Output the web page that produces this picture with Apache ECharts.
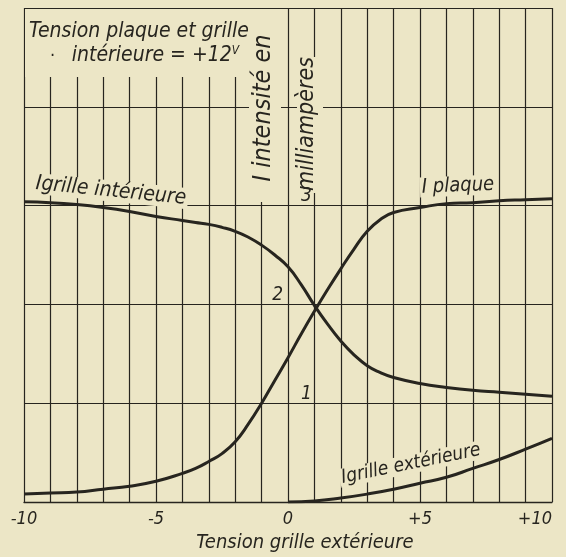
<!DOCTYPE html>
<html>
<head>
<meta charset="utf-8">
<script src="https://cdn.jsdelivr.net/npm/echarts@6/dist/echarts.min.js"></script>
<style>
  html, body { margin: 0; padding: 0; background: #ece6c6; }
  #chart { width: 566px; height: 557px; }
</style>
</head>
<body>
<div id="chart"></div>
<script>
// tension grille extérieure (V)
const tension = [-10, -9, -8, -7, -6, -5, -4, -3.5, -3, -2.5, -2, -1.5, -1, -0.5, 0, 0.5, 1, 1.5, 2, 2.5, 3, 3.5, 4, 5, 6, 7, 8, 9, 10]
// courants en mA
const iPlaque = [0.08, 0.09, 0.10, 0.13, 0.16, 0.21, 0.29, 0.34, 0.41, 0.49, 0.61, 0.79, 1.00, 1.23, 1.46, 1.70, 1.93, 2.15, 2.36, 2.56, 2.74, 2.86, 2.93, 2.98, 3.02, 3.03, 3.05, 3.06, 3.07]
const iGrilleInt = [3.04, 3.03, 3.01, 2.98, 2.94, 2.89, 2.85, 2.83, 2.81, 2.78, 2.74, 2.68, 2.60, 2.50, 2.38, 2.20, 1.99, 1.80, 1.63, 1.49, 1.38, 1.31, 1.26, 1.20, 1.16, 1.13, 1.11, 1.09, 1.07]
const tensionExt = [0, 1, 2, 3, 4, 5, 6, 7, 8, 9, 10]
const iGrilleExt = [0, 0.01, 0.04, 0.08, 0.13, 0.19, 0.25, 0.34, 0.43, 0.535, 0.645]
// graduations
const xTickValues = [-10, -5, 0, 5, 10]
const xTickLabels = ['-10', '-5', '0', '+5', '+10']
const yRightLabels = [1, 3]
const yLeftLabels = [2]

const paper = '#ece6c6'
const ink = '#27251f'
const font = '"Liberation Sans Narrow", "DejaVu Sans Condensed", "Liberation Sans", sans-serif'

const pairs = (xs, ys) => xs.map((x, i) => [x, ys[i]])

function curve(name, data) {
  return {
    name: name,
    type: 'line',
    data: data,
    smooth: 0.5,
    symbol: 'none',
    z: 8,
    lineStyle: { color: ink, width: 3 },
    itemStyle: { color: ink }
  }
}

function label(text, x, y, rotation, size) {
  return {
    type: 'text', z: 6, x: x, y: y, rotation: rotation,
    style: {
      text: text, fill: ink, fontSize: size, fontStyle: 'italic', fontFamily: font,
      align: 'center', verticalAlign: 'middle',
      backgroundColor: paper, padding: [0, 2]
    }
  }
}

const chart = echarts.init(document.getElementById('chart'))
chart.setOption({
  backgroundColor: paper,
  animation: false,
  grid: { left: 24, right: 14, top: 8, bottom: 55, outerBoundsMode: 'none' },
  xAxis: {
    type: 'value', min: -10, max: 10, interval: 1,
    axisLine: { onZero: false, lineStyle: { color: ink, width: 1.4 } },
    axisTick: { show: false },
    splitLine: { lineStyle: { color: ink, width: 1.2 } },
    axisLabel: {
      color: ink, fontSize: 18, fontStyle: 'italic', fontFamily: font, margin: 8,
      alignMaxLabel: 'right',
      formatter: v => {
        const i = xTickValues.indexOf(v)
        return i < 0 ? '' : xTickLabels[i]
      }
    },
    name: 'Tension grille extérieure',
    nameLocation: 'middle',
    nameGap: 31,
    nameTextStyle: { color: ink, fontSize: 20, fontStyle: 'italic', fontFamily: font, padding: [0, 0, 0, 34] }
  },
  yAxis: [
    {
      type: 'value', position: 'left', min: 0, max: 5, interval: 1,
      axisLine: { show: false }, axisTick: { show: false }, axisLabel: { show: false },
      splitLine: { lineStyle: { color: ink, width: 1.2 } }
    },
    {
      // chiffres 1 et 3, à droite de l'axe
      type: 'value', position: 'left', min: 0, max: 5, interval: 1, offset: -264, z: 10,
      axisLine: { show: false }, axisTick: { show: false }, splitLine: { show: false },
      axisLabel: {
        inside: true, margin: 13, verticalAlign: 'bottom',
        color: ink, fontSize: 19, fontStyle: 'italic', fontFamily: font,
        formatter: v => yRightLabels.indexOf(v) < 0 ? '' : String(v)
      }
    },
    {
      // chiffre 2, à gauche de l'axe
      type: 'value', position: 'left', min: 0, max: 5, interval: 1, offset: -264, z: 10,
      axisLine: { show: false }, axisTick: { show: false }, splitLine: { show: false },
      axisLabel: {
        inside: false, margin: 5, verticalAlign: 'bottom',
        color: ink, fontSize: 19, fontStyle: 'italic', fontFamily: font,
        formatter: v => yLeftLabels.indexOf(v) < 0 ? '' : String(v)
      }
    }
  ],
  series: [
    curve('I plaque', pairs(tension, iPlaque)),
    curve('I grille intérieure', pairs(tension, iGrilleInt)),
    curve('I grille extérieure', pairs(tensionExt, iGrilleExt))
  ],
  graphic: [
    // zones blanches sous le titre et le nom de l'axe
    { type: 'rect', z: 5, shape: { x: 25, y: 9, width: 226, height: 68 }, style: { fill: paper } },
    { type: 'rect', z: 5, shape: { x: 249, y: 9, width: 32, height: 193 }, style: { fill: paper } },
    { type: 'rect', z: 5, shape: { x: 297, y: 57, width: 26, height: 136 }, style: { fill: paper } },
    {
      type: 'text', z: 6, x: 29, y: 32,
      style: { text: 'Tension plaque et grille', fill: ink, fontSize: 21, fontStyle: 'italic', fontFamily: font, verticalAlign: 'middle' }
    },
    {
      type: 'text', z: 6, x: 50, y: 56,
      style: {
        text: '{d|·}     {a|intérieure = +12}{s|V}',
        verticalAlign: 'middle',
        rich: {
          d: { fill: ink, fontSize: 18, fontFamily: font },
          a: { fill: ink, fontSize: 21, fontStyle: 'italic', fontFamily: font },
          s: { fill: ink, fontSize: 12, fontStyle: 'italic', fontFamily: font, padding: [0, 0, 10, 0] }
        }
      }
    },
    {
      type: 'text', z: 6, x: 263, y: 108, rotation: Math.PI / 2,
      style: { text: 'I intensité en', fill: ink, fontSize: 25, fontStyle: 'italic', fontFamily: font, align: 'center', verticalAlign: 'middle' }
    },
    {
      type: 'text', z: 6, x: 307, y: 124, rotation: Math.PI / 2,
      style: { text: 'milliampères', fill: ink, fontSize: 23, fontStyle: 'italic', fontFamily: font, align: 'center', verticalAlign: 'middle' }
    },
    label('Igrille intérieure', 111, 191, -0.1, 21),
    label('I plaque', 458, 186, 0.04, 20),
    label('Igrille extérieure', 411, 464, 0.2, 19)
  ]
})
</script>
</body>
</html>
